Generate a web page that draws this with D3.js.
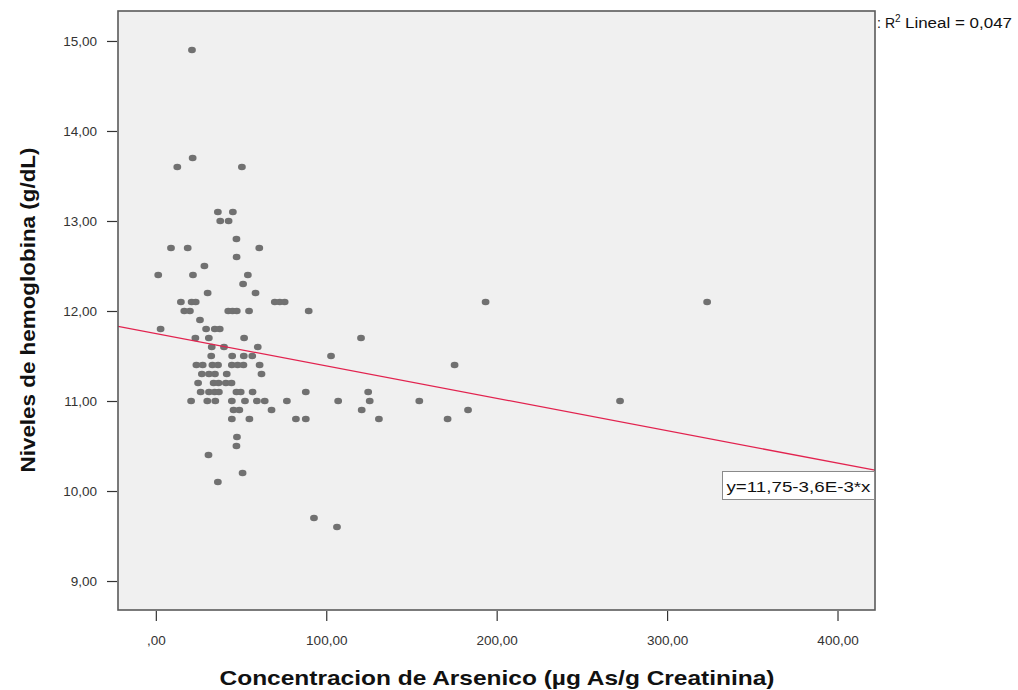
<!DOCTYPE html>
<html>
<head>
<meta charset="utf-8">
<script src="https://cdn.jsdelivr.net/npm/d3@7"></script>
<style>
  html, body { margin: 0; padding: 0; background: #ffffff; }
  svg { display: block; font-family: "Liberation Sans", Arial, sans-serif; }
</style>
</head>
<body>
<svg id="chart" width="1018" height="690"></svg>
<script>
// ---- data ----
const arsenic = [
  21.2, 21.6, 12.6, 50.5,
  36.4, 45.2, 37.8, 42.7,
  47.3,
  8.9, 18.7, 60.7,
  47.4,
  28.5,
  1.4, 21.8, 54.0,
  51.2,
  30.4, 58.5,
  14.7, 21.0, 23.4, 69.8, 72.7, 75.6, 193.5, 323.5,
  16.7, 20.0, 42.5, 45.0, 47.5, 54.7, 89.7,
  25.9,
  2.8, 29.5, 34.6, 37.5,
  23.2, 31.1, 51.8, 120.4,
  32.8, 40.0, 59.8,
  32.5, 44.8, 51.6, 56.6, 102.8,
  23.8, 27.5, 33.2, 36.5, 44.6, 48.0, 51.4, 60.9, 175.3,
  27.0, 31.2, 34.7, 41.6, 62.0,
  24.8, 33.9, 36.8, 41.1, 44.4,
  26.3, 31.2, 34.5, 37.0, 47.3, 49.8, 56.8, 88.0, 124.6,
  20.7, 30.2, 34.9, 44.6, 52.3, 59.3, 63.9, 76.9, 107.0, 125.5, 154.6, 272.4,
  45.6, 49.0, 67.9, 120.8, 183.2,
  44.6, 54.9, 82.2, 88.0, 130.9, 171.2,
  47.6, 47.3, 30.9, 50.9, 36.4,
  92.8, 106.3
];
const hemoglobin = [
  14.9, 13.7, 13.6, 13.6,
  13.1, 13.1, 13.0, 13.0,
  12.8,
  12.7, 12.7, 12.7,
  12.6,
  12.5,
  12.4, 12.4, 12.4,
  12.3,
  12.2, 12.2,
  12.1, 12.1, 12.1, 12.1, 12.1, 12.1, 12.1, 12.1,
  12.0, 12.0, 12.0, 12.0, 12.0, 12.0, 12.0,
  11.9,
  11.8, 11.8, 11.8, 11.8,
  11.7, 11.7, 11.7, 11.7,
  11.6, 11.6, 11.6,
  11.5, 11.5, 11.5, 11.5, 11.5,
  11.4, 11.4, 11.4, 11.4, 11.4, 11.4, 11.4, 11.4, 11.4,
  11.3, 11.3, 11.3, 11.3, 11.3,
  11.2, 11.2, 11.2, 11.2, 11.2,
  11.1, 11.1, 11.1, 11.1, 11.1, 11.1, 11.1, 11.1, 11.1,
  11.0, 11.0, 11.0, 11.0, 11.0, 11.0, 11.0, 11.0, 11.0, 11.0, 11.0, 11.0,
  10.9, 10.9, 10.9, 10.9, 10.9,
  10.8, 10.8, 10.8, 10.8, 10.8, 10.8,
  10.6, 10.5, 10.4, 10.2, 10.1,
  9.7, 9.6
];
const fitIntercept = 11.75;
const fitSlope = -0.0036;
const fitLabel = "y=11,75-3,6E-3*x";
const r2Label = "Lineal = 0,047";

const xTicks = [0, 100, 200, 300, 400];
const xTickLabels = [",00", "100,00", "200,00", "300,00", "400,00"];
const yTicks = [9, 10, 11, 12, 13, 14, 15];
const yTickLabels = ["9,00", "10,00", "11,00", "12,00", "13,00", "14,00", "15,00"];

const xTitle = "Concentracion de Arsenico (\u00B5g As/g Creatinina)";
const yTitle = "Niveles de hemoglobina (g/dL)";

// ---- layout ----
const plot = { left: 118, right: 875, top: 11, bottom: 610 };
const svg = d3.select("#chart");

const x = d3.scaleLinear().domain([-22.2, 422.0]).range([plot.left, plot.right]);
const y = d3.scaleLinear().domain([8.678, 15.333]).range([plot.bottom, plot.top]);

// background
svg.append("rect")
  .attr("x", plot.left).attr("y", plot.top)
  .attr("width", plot.right - plot.left).attr("height", plot.bottom - plot.top)
  .attr("fill", "#f0f0f0");

svg.append("clipPath").attr("id", "clip")
  .append("rect")
  .attr("x", plot.left).attr("y", plot.top)
  .attr("width", plot.right - plot.left).attr("height", plot.bottom - plot.top);

// points
const pts = arsenic.map((v, i) => ({ x: v, y: hemoglobin[i] }));
svg.append("g").attr("clip-path", "url(#clip)")
  .selectAll("ellipse").data(pts).enter().append("ellipse")
  .attr("cx", d => x(d.x)).attr("cy", d => y(d.y))
  .attr("rx", 3.9).attr("ry", 3.3)
  .attr("fill", "#717171");

// fit line
const xd = x.domain();
svg.append("line")
  .attr("clip-path", "url(#clip)")
  .attr("x1", x(xd[0])).attr("y1", y(fitIntercept + fitSlope * xd[0]))
  .attr("x2", x(xd[1])).attr("y2", y(fitIntercept + fitSlope * xd[1]))
  .attr("stroke", "#e2234f").attr("stroke-width", 1.3);

// frame
svg.append("rect")
  .attr("x", plot.left).attr("y", plot.top)
  .attr("width", plot.right - plot.left).attr("height", plot.bottom - plot.top)
  .attr("fill", "none").attr("stroke", "#5a5a5a").attr("stroke-width", 1.6);

// y axis
const yAxis = d3.axisLeft(y).tickValues(yTicks).tickSize(10).tickPadding(10)
  .tickFormat((d, i) => yTickLabels[i]);
const gy = svg.append("g").attr("transform", `translate(${plot.left - 1},0)`).call(yAxis);
gy.select(".domain").remove();
gy.selectAll(".tick line").attr("stroke", "#333").attr("stroke-width", 1.2);
gy.selectAll(".tick text").attr("fill", "#333").style("font-size", "13.5px")
  .style("font-family", "'Liberation Sans', Arial, sans-serif");

// x axis
const xAxis = d3.axisBottom(x).tickValues(xTicks).tickSize(10).tickPadding(14)
  .tickFormat((d, i) => xTickLabels[i]);
const gx = svg.append("g").attr("transform", `translate(0,${plot.bottom + 1})`).call(xAxis);
gx.select(".domain").remove();
gx.selectAll(".tick line").attr("stroke", "#333").attr("stroke-width", 1.2);
gx.selectAll(".tick text").attr("fill", "#333").style("font-size", "13.5px")
  .style("font-family", "'Liberation Sans', Arial, sans-serif");

// axis titles
svg.append("text")
  .attr("x", 497).attr("y", 685)
  .attr("text-anchor", "middle")
  .attr("textLength", 555).attr("lengthAdjust", "spacingAndGlyphs")
  .style("font-size", "21px").style("font-weight", "bold").attr("fill", "#111")
  .text(xTitle);

svg.append("text")
  .attr("transform", "translate(35,310) rotate(-90)")
  .attr("text-anchor", "middle")
  .attr("textLength", 325).attr("lengthAdjust", "spacingAndGlyphs")
  .style("font-size", "21px").style("font-weight", "bold").attr("fill", "#111")
  .text(yTitle);

// R2 legend (partially hidden at the plot edge)
svg.append("text").attr("x", 877).attr("y", 28).style("font-size", "14px").attr("fill", "#111").text(":");
svg.append("text").attr("x", 885).attr("y", 28).style("font-size", "14px").attr("fill", "#111").text("R");
svg.append("text").attr("x", 895).attr("y", 22).style("font-size", "10px").attr("fill", "#111").text("2");
svg.append("text").attr("x", 905).attr("y", 28)
  .attr("textLength", 107).attr("lengthAdjust", "spacingAndGlyphs")
  .style("font-size", "14px").attr("fill", "#111").text(r2Label);

// equation box
const bx = 722.5, by = 471.5, bw = 152, bh = 28;
svg.append("rect").attr("x", bx).attr("y", by).attr("width", bw).attr("height", bh)
  .attr("fill", "#ffffff").attr("stroke", "#8a8a8a").attr("stroke-width", 1);
svg.append("text").attr("x", bx + 4).attr("y", by + 20)
  .attr("textLength", bw - 8).attr("lengthAdjust", "spacingAndGlyphs")
  .style("font-size", "14px").attr("fill", "#111")
  .text(fitLabel);
</script>
</body>
</html>
